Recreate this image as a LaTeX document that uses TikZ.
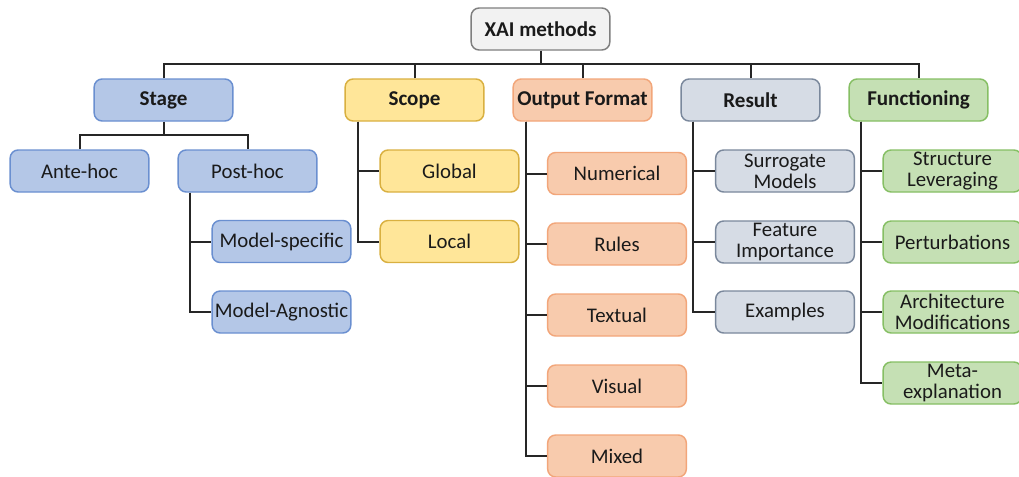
\documentclass[tikz,border=0pt]{standalone}
\usepackage{fontspec}
\setmainfont{Carlito}
\definecolor{rootF}{HTML}{F2F2F2}\definecolor{rootD}{HTML}{7F7F7F}
\definecolor{blueF}{HTML}{B4C7E7}\definecolor{blueD}{HTML}{6A8FD0}
\definecolor{yelF}{HTML}{FFE699}\definecolor{yelD}{HTML}{D9B040}
\definecolor{orF}{HTML}{F8CBAD}\definecolor{orD}{HTML}{F2A67A}
\definecolor{grF}{HTML}{D6DCE5}\definecolor{grD}{HTML}{7A889C}
\definecolor{gnF}{HTML}{C5E0B4}\definecolor{gnD}{HTML}{86BF64}
\definecolor{lineC}{HTML}{262626}
\definecolor{txtC}{HTML}{1A1A1A}
\tikzset{
  box/.style={draw, rounded corners=6pt, line width=1.1pt, minimum width=104pt, minimum height=31.5pt,
    inner sep=0pt, align=center, text=txtC, font=\fontsize{15.6}{15.8}\selectfont},
  head/.style={box, font=\fontsize{15.8}{16}\selectfont\bfseries},
  rootbox/.style={head, fill=rootF, draw=rootD},
  bluebox/.style={box, fill=blueF, draw=blueD},
  yelbox/.style={box, fill=yelF, draw=yelD},
  orbox/.style={box, fill=orF, draw=orD},
  grbox/.style={box, fill=grF, draw=grD},
  gnbox/.style={box, fill=gnF, draw=gnD},
  conn/.style={draw=lineC, line width=1.5pt},
}
\begin{document}
\begin{tikzpicture}[x=0.75pt, y=-0.75pt]
\fill[white] (0,0) rectangle (1019,476);
\useasboundingbox (0,0) rectangle (1019,476);
\clip (0,0) rectangle (1019,476);
% root and level 1
\node[rootbox] (root) at (540.5,29) {XAI methods};
\node[head, fill=blueF, draw=blueD] (stage) at (163.5,100) {Stage};
\node[head, fill=yelF, draw=yelD] (scope) at (414.5,100) {Scope};
\node[head, fill=orF, draw=orD] (outf) at (582.5,100) {Output Format};
\node[head, fill=grF, draw=grD] (result) at (750.5,100) {Result};
\node[head, fill=gnF, draw=gnD] (func) at (918.5,100) {Functioning};
% stage children
\node[bluebox] (ante) at (79.5,171) {Ante-hoc};
\node[bluebox] (post) at (247.5,171) {Post-hoc};
\node[bluebox] (mspec) at (281.5,241.5) {Model-specific};
\node[bluebox] (magn) at (281.5,312) {Model-Agnostic};
% scope children
\node[yelbox] (glob) at (449.5,171) {Global};
\node[yelbox] (loc) at (449.5,241.5) {Local};
% output format children
\node[orbox] (num) at (617,173.5) {Numerical};
\node[orbox] (rules) at (617,244) {Rules};
\node[orbox] (textual) at (617,315) {Textual};
\node[orbox] (visual) at (617,386) {Visual};
\node[orbox] (mixed) at (617,456) {Mixed};
% result children
\node[grbox] (surr) at (785,171) {Surrogate\\Models};
\node[grbox] (feat) at (785,242) {Feature\\Importance};
\node[grbox] (exa) at (785,312) {Examples};
% functioning children
\node[gnbox] (struct) at (952.5,171) {Structure\\Leveraging};
\node[gnbox] (pert) at (952.5,242) {Perturbations};
\node[gnbox] (arch) at (952.5,312) {Architecture\\Modifications};
\node[gnbox] (meta) at (952.5,383) {Meta-\\explanation};
% connectors root
\coordinate (bus) at (540.5,64);
\path[conn] (root.south) -- (bus);
\path[conn] (stage.north) |- (bus) -| (func.north);
\path[conn] (scope.north) -- (scope.north |- bus);
\path[conn] (outf.north) -- (outf.north |- bus);
\path[conn] (result.north) -- (result.north |- bus);
% stage
\coordinate (sbus) at (163.5,135);
\path[conn] (stage.south) -- (sbus);
\path[conn] (ante.north) |- (sbus) -| (post.north);
\path[conn] (post.south west) ++(13,0) |- (mspec.west);
\path[conn] (post.south west) ++(13,0) |- (magn.west);
% scope
\path[conn] (scope.south west) ++(14,0) |- (glob.west);
\path[conn] (scope.south west) ++(14,0) |- (loc.west);
% output format
\foreach \n in {num,rules,textual,visual,mixed}
  \path[conn] (outf.south west) ++(14,0) |- (\n.west);
% result
\foreach \n in {surr,feat,exa}
  \path[conn] (result.south west) ++(13,0) |- (\n.west);
% functioning
\foreach \n in {struct,pert,arch,meta}
  \path[conn] (func.south west) ++(13,0) |- (\n.west);
\end{tikzpicture}
\end{document}
